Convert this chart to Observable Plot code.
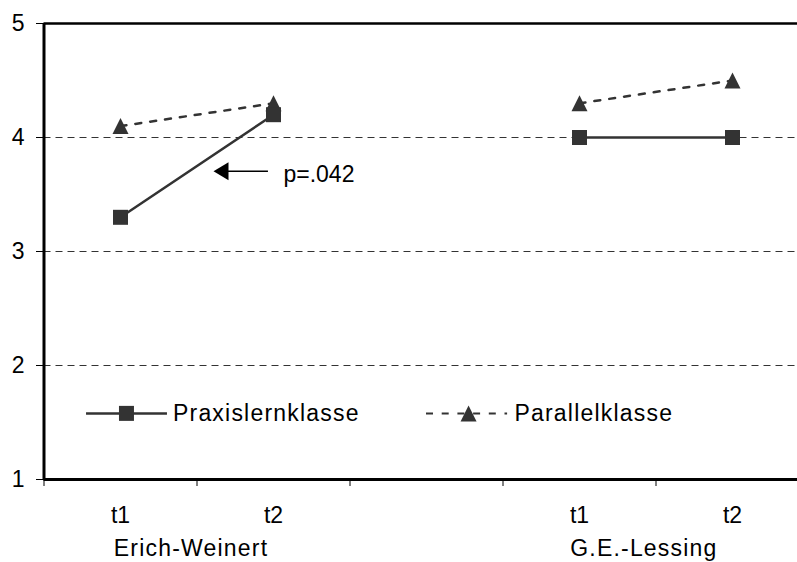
<!DOCTYPE html>
<html><head><meta charset="utf-8">
<script src="https://cdn.jsdelivr.net/npm/d3@7"></script>
<script src="https://cdn.jsdelivr.net/npm/@observablehq/plot@0.6"></script>
<style>html,body{margin:0;padding:0;background:#fff} svg{display:block}</style>
</head><body><div id="chart"></div>
<script>
// ---- data ----
const slots = [0.5, 1.5, 3.5, 4.5];                 // category centres (band units)
const schools = ["Erich-Weinert", "Erich-Weinert", "G.E.-Lessing", "G.E.-Lessing"];
const times = ["t1", "t2", "t1", "t2"];
const praxis = [3.3, 4.2, 4.0, 4.0];
const parallel = [4.1, 4.3, 4.3, 4.5];
const bandEdges = [0, 1, 2, 3, 4];
const groupLabels = ["Erich-Weinert", "G.E.-Lessing"];
const groupCenters = [1, 3.96];
const yTicks = [1, 2, 3, 4, 5];
const gridValues = [2, 3, 4];
const seriesNames = ["Praxislernklasse", "Parallelklasse"];
const annotationText = ["p=.042"];

// ---- layout (data units) ----
const legendY = 1.58;
const legend1 = {x1: 0.278, x2: 0.807, mark: 0.539, text: 0.843};
const legend2 = {x1: 2.5, x2: 3.03, mark: 2.775, text: 3.075};
const arrowAnn = {head: 1.157, x1: 1.154, x2: 1.467, y: 3.704, textX: 1.565, textY: 3.673};

const rowsOf = vals => slots.map((x, i) => ({x, y: vals[i], school: schools[i]}));
const praxisRows = rowsOf(praxis);
const parallelRows = rowsOf(parallel);

// custom symbols: size = PI r^2 ; s = sqrt(size)
const squareSym = {draw(c, size) { const s = Math.sqrt(size); c.rect(-s/2, -s/2, s, s); }};
const triSym = {draw(c, size) { const s = Math.sqrt(size); c.moveTo(0, -s/2); c.lineTo(s/2, s/2); c.lineTo(-s/2, s/2); c.closePath(); }};
const headSym = {draw(c, size) { const s = Math.sqrt(size); c.moveTo(-s/2, 0); c.lineTo(s/2, -0.6*s); c.lineTo(s/2, 0.6*s); c.closePath(); }};
const rOf = s => s / Math.sqrt(Math.PI);

const ink = "#333";
const chart = Plot.plot({
  width: 797, height: 562,
  marginTop: 23, marginBottom: 83, marginLeft: 44, marginRight: 0,
  x: {type: "linear", domain: [0, 5], range: [43.5, 808.5], label: null},
  y: {domain: [1, 5], label: null},
  style: {fontFamily: "'Liberation Sans', Arial, sans-serif", fontSize: "23px", color: "#000", background: "#fff"},
  marks: [
    Plot.ruleY(gridValues, {x1: 0, x2: 5, stroke: ink, strokeWidth: 1, strokeDasharray: "7,5"}),
    Plot.ruleY([5], {x1: 0, x2: 5, stroke: "#000", strokeWidth: 2.5}),
    Plot.ruleY([1], {x1: 0, x2: 5, stroke: "#000", strokeWidth: 3}),
    Plot.ruleX([0], {y1: 1, y2: 5, stroke: "#000", strokeWidth: 3}),
    Plot.axisY({ticks: yTicks, tickSize: 8, tickPadding: 12, fontSize: 23, tickFormat: d => String(d), label: null}),
    Plot.axisX({ticks: bandEdges, tickSize: 7, tickFormat: () => "", label: null}),
    Plot.axisX({ticks: slots, tickSize: 0, tickPadding: 27, fontSize: 23, tickFormat: d => times[slots.indexOf(d)], label: null}),
    Plot.axisX({ticks: groupCenters, tickSize: 0, tickPadding: 60, fontSize: 23, dx: -6, tickFormat: d => groupLabels[groupCenters.indexOf(d)], label: null}),
    // series
    Plot.line(parallelRows, {x: "x", y: "y", z: "school", stroke: ink, strokeWidth: 2.5, strokeDasharray: "6,9"}),
    Plot.line(praxisRows, {x: "x", y: "y", z: "school", stroke: ink, strokeWidth: 2.5}),
    Plot.dot(parallelRows, {x: "x", y: "y", symbol: triSym, r: rOf(16), fill: ink, stroke: "none"}),
    Plot.dot(praxisRows, {x: "x", y: "y", symbol: squareSym, r: rOf(15), fill: ink, stroke: "none"}),
    // annotation arrow
    Plot.ruleY([arrowAnn.y], {x1: arrowAnn.x1, x2: arrowAnn.x2, stroke: "#000", strokeWidth: 1.5}),
    Plot.dot([arrowAnn.y], {x: arrowAnn.head, y: d => d, symbol: headSym, r: rOf(15), fill: "#000", stroke: "none"}),
    Plot.text(annotationText, {x: arrowAnn.textX, y: arrowAnn.textY, text: d => d, textAnchor: "start", fontSize: 23, fill: "#000"}),
    // legend
    Plot.ruleY([legendY], {x1: legend1.x1, x2: legend1.x2, stroke: ink, strokeWidth: 2.5}),
    Plot.dot([legendY], {x: legend1.mark, y: d => d, symbol: squareSym, r: rOf(15), fill: ink, stroke: "none"}),
    Plot.text([seriesNames[0]], {x: legend1.text, y: legendY, text: d => d, textAnchor: "start", fontSize: 23, fill: "#000"}),
    Plot.ruleY([legendY], {x1: legend2.x1, x2: legend2.x2, stroke: ink, strokeWidth: 2, strokeDasharray: "7,8.7"}),
    Plot.dot([legendY], {x: legend2.mark, y: d => d, symbol: triSym, r: rOf(16), fill: ink, stroke: "none"}),
    Plot.text([seriesNames[1]], {x: legend2.text, y: legendY, text: d => d, textAnchor: "start", fontSize: 23, fill: "#000"})
  ]
});
d3.select(chart).selectAll("text").filter(function() {
  const t = this.textContent; return t.length > 3 && !t.startsWith("p=");
}).style("letter-spacing", "1.2px");
document.getElementById("chart").appendChild(chart);
</script>
</body></html>
